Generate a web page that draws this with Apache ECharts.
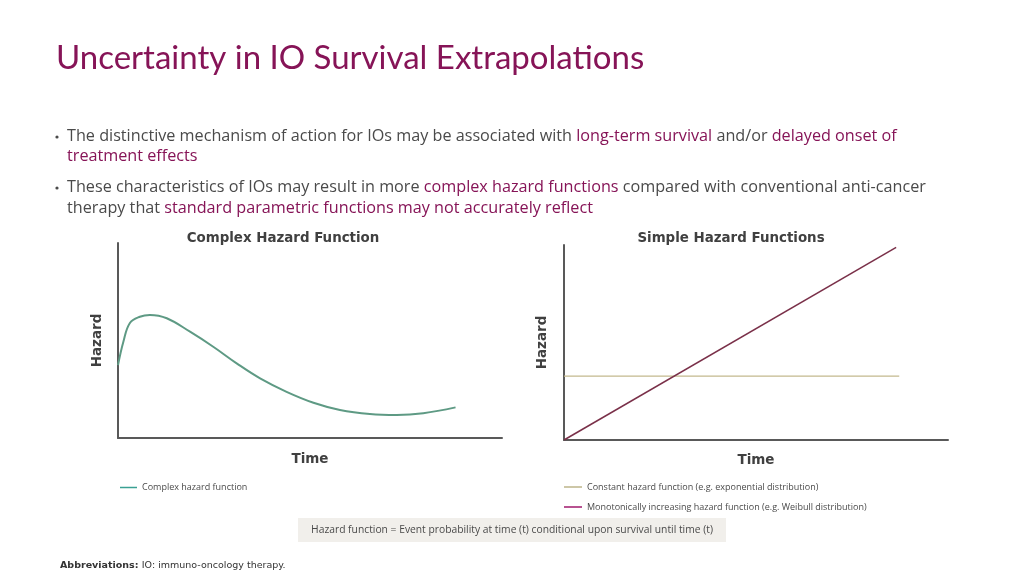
<!DOCTYPE html>
<html><head><meta charset="utf-8">
<script src="https://cdn.jsdelivr.net/npm/echarts@6/dist/echarts.min.js"></script>
<style>html,body{margin:0;padding:0;background:#fff;}#c{width:1024px;height:576px;}</style>
</head><body><div id="c"></div>
<script>
// Data
const complexTime   = [0, 1.4, 3.1, 5.7, 8.3, 12.7, 18.75, 24.8, 30.9, 37.0, 43.9, 50.9, 57.8, 65.6, 72.6, 79.5, 87.9];
const complexHazard = [37.4, 49.4, 59.0, 62.2, 63.1, 61.4, 54.5, 46.8, 38.3, 30.6, 23.7, 18.1, 14.4, 12.3, 11.8, 12.7, 15.7];
const constantTime   = [0, 87.3];
const constantHazard = [32.8, 32.8];
const weibullTime    = [0, 86.5];
const weibullHazard  = [0, 98.8];
const seriesNames = ['Complex hazard function', 'Constant hazard function (e.g. exponential distribution)', 'Monotonically increasing hazard function (e.g. Weibull distribution)'];
const panelTitles = ['Complex Hazard Function', 'Simple Hazard Functions'];

const PURPLE = '#861457', GREY = '#4a4a4a', AXIS = '#595959';
const chart = echarts.init(document.getElementById('c'));
const zip = (a, b) => a.map((v, i) => [v, b[i]]);
const bodyFont = 'Open Sans';
const FS = 16.2;
const rt = { g: { fill: GREY, fontFamily: bodyFont, fontSize: FS }, p: { fill: PURPLE, fontFamily: bodyFont, fontSize: FS } };
function line(y, segs) {
  return { type: 'text', x: 67, y: y, style: { text: segs, rich: rt, font: FS + 'px ' + bodyFont, textVerticalAlign: 'middle', verticalAlign: 'middle' } };
}
function axisX(i, gap) {
  return { gridIndex: i, type: 'value', min: 0, max: 100, name: 'Time', nameLocation: 'middle', nameGap: gap,
    nameTextStyle: { fontFamily: 'DejaVu Sans', fontWeight: 'bold', fontSize: 13.5, color: '#404040' },
    axisLine: { show: true, lineStyle: { color: AXIS, width: 2 } }, axisTick: { show: false }, axisLabel: { show: false }, splitLine: { show: false } };
}
function axisY(i, gap) {
  return { gridIndex: i, type: 'value', min: 0, max: 100, name: 'Hazard', nameLocation: 'middle', nameGap: gap, nameRotate: 90,
    nameTextStyle: { fontFamily: 'DejaVu Sans', fontWeight: 'bold', fontSize: 13.5, color: '#404040' },
    axisLine: { show: true, lineStyle: { color: AXIS, width: 2 } }, axisTick: { show: false }, axisLabel: { show: false }, splitLine: { show: false } };
}
function ptitle(x, t) {
  return { type: 'text', x: x, y: 239, style: { text: t, fill: '#404040', font: 'bold 13.4px "DejaVu Sans"', textAlign: 'center', textVerticalAlign: 'middle' } };
}
chart.setOption({
  animation: false,
  title: [
    { text: 'Uncertainty in IO Survival Extrapolations', left: 51, top: 37, textStyle: { color: PURPLE, fontFamily: 'Lato', fontWeight: 'normal', fontSize: 33 } }
  ],
  grid: [
    { left: 118, top: 243, width: 384, height: 195 },
    { left: 564, top: 245, width: 384, height: 195 }
  ],
  xAxis: [axisX(0, 14), axisX(1, 13)],
  yAxis: [axisY(0, 14), axisY(1, 15)],
  legend: [
    { left: 115, top: 478, icon: 'rect', itemWidth: 17, itemHeight: 1.5, itemGap: 8,
      textStyle: { fontSize: 9, color: GREY, fontFamily: bodyFont }, data: [{ name: seriesNames[0], itemStyle: { color: '#3aa093' } }] },
    { left: 559, top: 476, orient: 'vertical', icon: 'rect', itemWidth: 18, itemHeight: 1.5, itemGap: 8,
      textStyle: { fontSize: 9, color: GREY, fontFamily: bodyFont, lineHeight: 12 },
      data: [{ name: seriesNames[1], itemStyle: { color: '#bdb48a' } }, { name: seriesNames[2], itemStyle: { color: '#a0186c' } }] }
  ],
  series: [
    { name: seriesNames[0], type: 'line', xAxisIndex: 0, yAxisIndex: 0, data: zip(complexTime, complexHazard), smooth: 0.4, showSymbol: false,
      lineStyle: { color: '#5e9a84', width: 2 }, itemStyle: { color: '#5e9a84' } },
    { name: seriesNames[1], type: 'line', xAxisIndex: 1, yAxisIndex: 1, data: zip(constantTime, constantHazard), showSymbol: false,
      lineStyle: { color: '#c3b98e', width: 1.3 }, itemStyle: { color: '#c3b98e' } },
    { name: seriesNames[2], type: 'line', xAxisIndex: 1, yAxisIndex: 1, data: zip(weibullTime, weibullHazard), showSymbol: false,
      lineStyle: { color: '#7a3049', width: 1.5 }, itemStyle: { color: '#7a3049' } }
  ],
  graphic: [
    ptitle(283, panelTitles[0]),
    ptitle(731, panelTitles[1]),
    { type: 'circle', shape: { cx: 57, cy: 137, r: 1.6 }, style: { fill: GREY } },
    { type: 'circle', shape: { cx: 57, cy: 188, r: 1.6 }, style: { fill: GREY } },
    line(136, '{g|The distinctive mechanism of action for IOs may be associated with }{p|long-term survival}{g| and/or }{p|delayed onset of}'),
    line(156, '{p|treatment effects}'),
    line(187, '{g|These characteristics of IOs may result in more }{p|complex hazard functions}{g| compared with conventional anti-cancer}'),
    line(208, '{g|therapy that }{p|standard parametric functions may not accurately reflect}'),
    { type: 'rect', shape: { x: 298, y: 518, width: 428, height: 24 }, style: { fill: '#f1efeb' } },
    { type: 'text', x: 512, y: 530, style: { text: 'Hazard function = Event probability at time (t) conditional upon survival until time (t)', fill: GREY, font: '10.3px ' + bodyFont, textAlign: 'center', textVerticalAlign: 'middle' } },
    { type: 'text', x: 60, y: 566, style: { text: '{b|Abbreviations:} {n|IO: immuno-oncology therapy.}', textVerticalAlign: 'middle', verticalAlign: 'middle', rich: { b: { fontWeight: 'bold', fontSize: 9.5, fontFamily: 'DejaVu Sans', fill: '#333' }, n: { fontSize: 9.5, fontFamily: 'DejaVu Sans', fill: '#333' } } } }
  ]
});
</script></body></html>
